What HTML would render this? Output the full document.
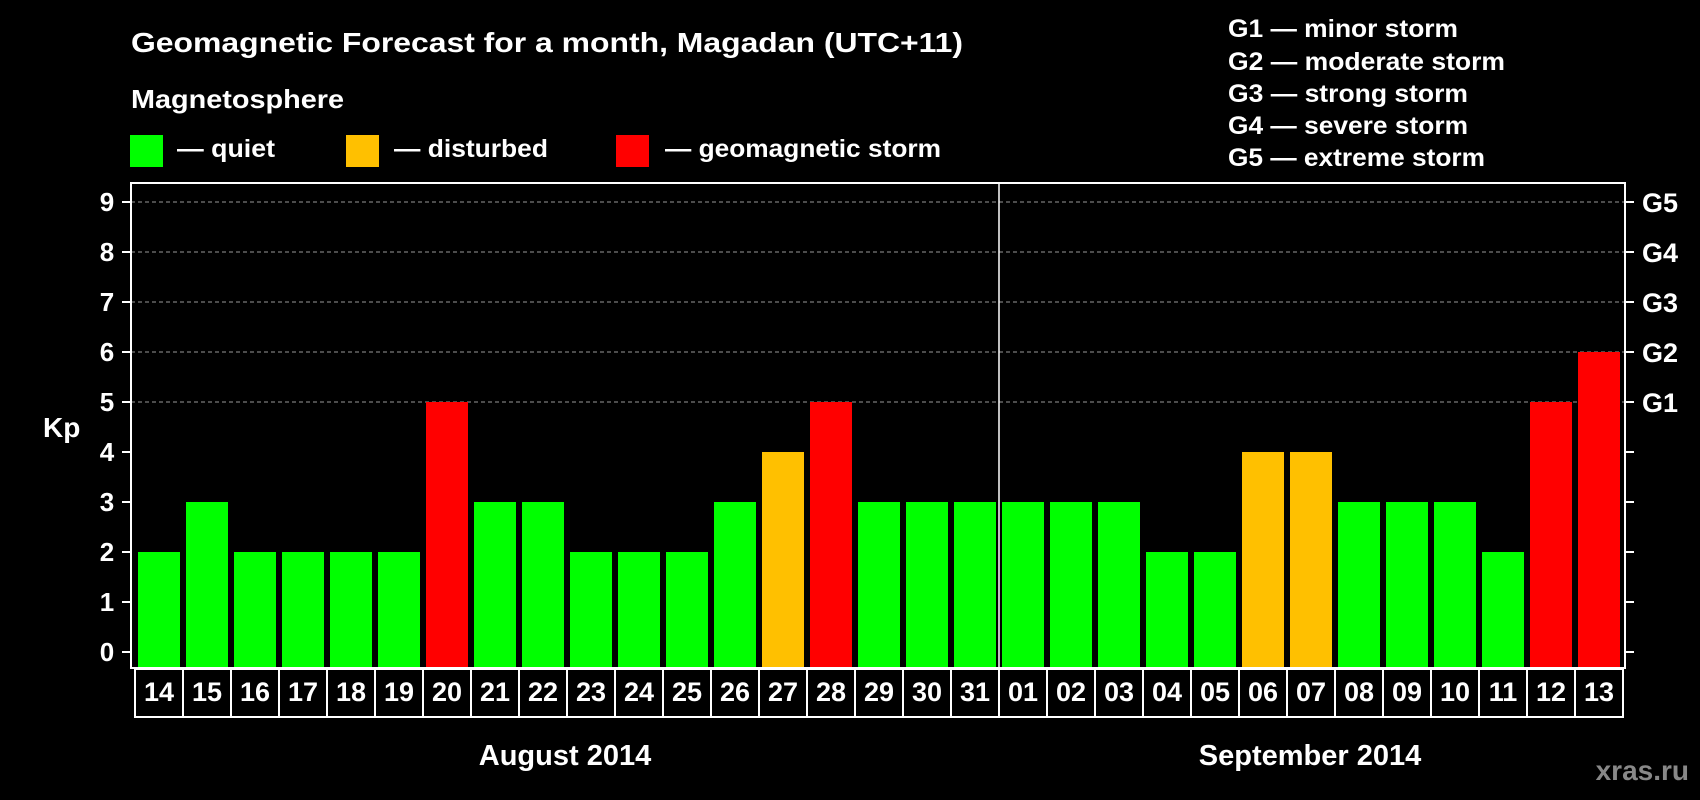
<!DOCTYPE html>
<html><head><meta charset="utf-8"><style>
html,body{margin:0;padding:0;background:#000;width:1700px;height:800px;overflow:hidden}
svg{display:block}
text{font-family:"Liberation Sans",sans-serif;font-weight:bold;fill:#fff}
</style></head><body>
<svg id="chart" width="1700" height="800" viewBox="0 0 1700 800">
<rect x="0" y="0" width="1700" height="800" fill="#000"/>
<text x="131" y="52" font-size="28" textLength="832" lengthAdjust="spacingAndGlyphs">Geomagnetic Forecast for a month, Magadan (UTC+11)</text>
<text x="131" y="108" font-size="26" textLength="213" lengthAdjust="spacingAndGlyphs">Magnetosphere</text>
<rect x="130" y="135" width="33" height="32" fill="#00ff00"/>
<text x="177" y="157" font-size="25" textLength="98" lengthAdjust="spacingAndGlyphs">— quiet</text>
<rect x="346" y="135" width="33" height="32" fill="#ffc000"/>
<text x="394" y="157" font-size="25" textLength="154" lengthAdjust="spacingAndGlyphs">— disturbed</text>
<rect x="616" y="135" width="33" height="32" fill="#ff0000"/>
<text x="665" y="157" font-size="25" textLength="276" lengthAdjust="spacingAndGlyphs">— geomagnetic storm</text>
<g>
<text x="1228" y="37" font-size="25" textLength="230" lengthAdjust="spacingAndGlyphs">G1 — minor storm</text>
<text x="1228" y="70" font-size="25" textLength="277" lengthAdjust="spacingAndGlyphs">G2 — moderate storm</text>
<text x="1228" y="102" font-size="25" textLength="240" lengthAdjust="spacingAndGlyphs">G3 — strong storm</text>
<text x="1228" y="134" font-size="25" textLength="240" lengthAdjust="spacingAndGlyphs">G4 — severe storm</text>
<text x="1228" y="166" font-size="25" textLength="257" lengthAdjust="spacingAndGlyphs">G5 — extreme storm</text>
</g>
<text x="43" y="437" font-size="28">Kp</text>
<g id="grid"></g>
<g id="bars"></g>
<g id="labels"></g>
<rect x="131" y="183" width="1494" height="485" fill="none" stroke="#fff" stroke-width="2"/>
<line x1="999" y1="183" x2="999" y2="668" stroke="#fff" stroke-width="1.5"/>
<text x="565" y="765" font-size="29" text-anchor="middle">August 2014</text>
<text x="1310" y="765" font-size="29" text-anchor="middle">September 2014</text>
<text x="1689" y="780" font-size="28" text-anchor="end" style="fill:#888">xras.ru</text>
</svg>
<script>
const days = ["14","15","16","17","18","19","20","21","22","23","24","25","26","27","28","29","30","31","01","02","03","04","05","06","07","08","09","10","11","12","13"];
const kpValues = [2,3,2,2,2,2,5,3,3,2,2,2,3,4,5,3,3,3,3,3,3,2,2,4,4,3,3,3,2,5,6];
const yTicks = [0,1,2,3,4,5,6,7,8,9];
const stormLabels = ["G1","G2","G3","G4","G5"];
const stormLevels = [5,6,7,8,9];

const NS = "http://www.w3.org/2000/svg";
const plotL = 131, plotR = 1625, y0 = 652, unit = 50, barStart = 135, step = 48;
function yScale(v){ return y0 - v*unit; }
function xBand(i){ return barStart + i*step; }
function color(v){ return v >= 5 ? "#ff0000" : (v >= 4 ? "#ffc000" : "#00ff00"); }
function mk(tag, attrs, parent){ const e = document.createElementNS(NS, tag); for (const k in attrs) e.setAttribute(k, attrs[k]); parent.appendChild(e); return e; }

const grid = document.getElementById("grid");
yTicks.forEach(t => {
  const y = yScale(t);
  const tl = mk("line", {x1:122, y1:y, x2:plotL, y2:y, stroke:"#fff", "stroke-width":2}, grid);
  
  
  const tr = mk("line", {x1:plotR, y1:y, x2:plotR+9, y2:y, stroke:"#fff", "stroke-width":2}, grid);
  
  
  const lb = mk("text", {x:107, y:y+9, "font-size":26, "text-anchor":"middle"}, grid);
  lb.textContent = t;
  
  
});
stormLevels.forEach((lv, i) => {
  const y = yScale(lv);
  const gl = mk("line", {x1:plotL, y1:y, x2:plotR, y2:y, stroke:"#999", "stroke-width":1, "stroke-dasharray":"4,3"}, grid);
  
  
  const gt = mk("text", {x:1642, y:y+10, "font-size":27}, grid);
  gt.textContent = stormLabels[i];
  
  
});

const bars = document.getElementById("bars");
const labels = document.getElementById("labels");
kpValues.forEach((v, i) => {
  const x = xBand(i);
  const b = mk("rect", {x:x+3, y:yScale(v), width:42, height:668-yScale(v), fill:color(v)}, bars);
  
  
  const box = mk("rect", {x:x, y:669, width:step, height:48, fill:"none", stroke:"#fff", "stroke-width":2}, labels);
  
  
  const t = mk("text", {x:x+step/2, y:701, "font-size":27, "text-anchor":"middle"}, labels);
  t.textContent = days[i];
  
  
});
</script>
</body></html>
